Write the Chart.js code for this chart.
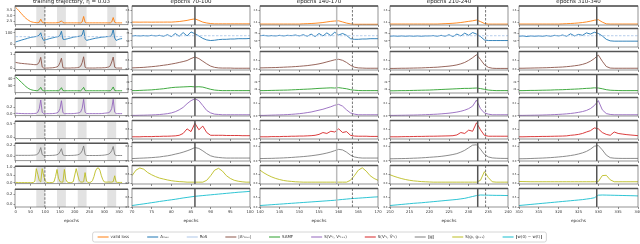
<!DOCTYPE html>
<html>
<head>
<meta charset="utf-8">
<script src="https://cdn.jsdelivr.net/npm/chart.js@4.4.1/dist/chart.umd.min.js"></script>
<style>
  body { margin: 0; background: #fff; width: 640px; height: 244px; overflow: hidden; position: relative; }
  canvas { position: absolute; }
</style>
</head>
<body>
<script>
// ---- data: full training trajectory (every 5 epochs) ----
const epochsTrain = [0,5,10,15,20,25,30,35,40,45,50,55,60,65,70,75,80,85,90,95,100,105,110,115,120,125,130,135,140,145,150,155,160,165,170,175,180,185,190,195,200,205,210,215,220,225,230,235,240,245,250,255,260,265,270,275,280,285,290,295,300,305,310,315,320,325,330,335,340,345,350,355,360];
const valLossTrain = [3.78,3.65,3.5,3.35,3.2,3.05,2.9,2.78,2.67,2.58,2.5,2.45,2.42,2.4,2.39,2.39,2.42,2.7,2.42,2.38,2.38,2.38,2.37,2.37,2.37,2.37,2.37,2.37,2.38,2.4,2.45,2.55,2.4,2.37,2.37,2.37,2.37,2.37,2.37,2.37,2.37,2.37,2.37,2.37,2.37,2.45,2.95,2.42,2.37,2.37,2.37,2.37,2.37,2.37,2.37,2.37,2.37,2.37,2.37,2.37,2.37,2.37,2.37,2.37,2.37,2.45,2.85,2.42,2.37,2.37,2.37,2.37,2.37];
const aMaxTrain = [21,25,29,33,37,41,44,48,52,56,59,62,64,66,68,72,80,100,55,34,38,42,46,50,53,56,59,62,65,68,78,113,45,42,45,48,52,55,58,62,64,66,68,70,72,82,125,50,34,38,41,44,47,50,53,55,57,59,61,63,64,66,67,68,70,80,128,55,34,40,45,48,50];
const aEpsTrain = [0.42,0.4,0.38,0.36,0.35,0.34,0.33,0.32,0.31,0.3,0.29,0.28,0.27,0.26,0.26,0.3,0.45,0.78,0.1,0.02,0.02,0.02,0.02,0.03,0.03,0.04,0.05,0.07,0.1,0.18,0.4,0.72,0.05,0.02,0.02,0.02,0.02,0.02,0.03,0.03,0.03,0.04,0.05,0.08,0.15,0.4,0.82,0.08,0.02,0.02,0.02,0.02,0.02,0.02,0.02,0.03,0.03,0.03,0.03,0.04,0.04,0.05,0.07,0.1,0.18,0.45,0.8,0.08,0.02,0.02,0.02,0.02,0.02];
const samfTrain = [42.6,41,39,37,35,33,31,29,27.5,26,25,24.3,23.8,23.5,23.3,23.5,25,28,24,23.2,23.2,23.2,23.2,23.2,23.2,23.2,23.2,23.2,23.2,23.2,24.5,27.5,23.5,23.2,23.2,23.2,23.2,23.2,23.2,23.2,23.2,23.2,23.2,23.2,23.2,25,28,23.5,23.2,23.2,23.2,23.2,23.2,23.2,23.2,23.2,23.2,23.2,23.2,23.2,23.2,23.2,23.2,23.2,23.2,25,28.5,23.5,23.2,23.2,23.2,23.2,23.2];
const simVTrain = [0.02,0.02,0.015,0.015,0.012,0.012,0.01,0.01,0.01,0.01,0.01,0.01,0.012,0.015,0.02,0.05,0.15,0.4,0.05,0.01,0.01,0.01,0.01,0.01,0.01,0.012,0.015,0.02,0.03,0.06,0.15,0.38,0.04,0.01,0.01,0.01,0.01,0.01,0.01,0.012,0.015,0.02,0.025,0.035,0.06,0.16,0.42,0.05,0.01,0.01,0.01,0.01,0.01,0.01,0.01,0.01,0.01,0.01,0.012,0.015,0.02,0.025,0.03,0.04,0.07,0.16,0.42,0.05,0.01,0.01,0.01,0.01,0.01];
const simVtTrain = [];
const gNormTrain = [0.016,0.016,0.015,0.015,0.015,0.015,0.015,0.015,0.015,0.015,0.016,0.017,0.018,0.02,0.025,0.04,0.08,0.16,0.03,0.012,0.012,0.012,0.012,0.013,0.014,0.015,0.017,0.02,0.026,0.04,0.08,0.14,0.025,0.012,0.012,0.012,0.012,0.013,0.014,0.015,0.017,0.02,0.025,0.035,0.055,0.1,0.19,0.03,0.012,0.012,0.012,0.012,0.012,0.012,0.012,0.012,0.013,0.014,0.015,0.017,0.02,0.024,0.03,0.04,0.06,0.1,0.18,0.03,0.012,0.012,0.012,0.012,0.012];
const simGTrain = [0.03,0.03,0.02,0.02,0.02,0.02,0.02,0.02,0.02,0.02,0.02,0.02,0.03,0.1,0.9,0.55,0.15,0.06,0.9,0.45,0.12,0.04,0.02,0.02,0.02,0.03,0.08,0.4,0.85,0.3,0.08,0.05,0.05,0.85,0.2,0.05,0.02,0.02,0.03,0.08,0.5,0.9,0.5,0.15,0.06,0.05,0.08,0.65,0.1,0.03,0.03,0.05,0.15,0.4,0.75,0.92,0.95,0.8,0.45,0.2,0.06,0.05,0.05,0.06,0.05,0.05,0.08,0.45,0.05,0.03,0.03,0.03,0.03];
const wDistTrain = [];

// ---- data: zoomed windows (every epoch) ----
const epochs70 = [70,71,72,73,74,75,76,77,78,79,80,81,82,83,84,85,86,87,88,89,90,91,92,93,94,95,96,97,98,99,100];
const valLoss70 = [2.4,2.4,2.399,2.4,2.4,2.399,2.4,2.4,2.4,2.401,2.4,2.405,2.41,2.42,2.43,2.445,2.456,2.43,2.4,2.385,2.375,2.37,2.37,2.37,2.37,2.37,2.37,2.37,2.37,2.37,2.37];
const aMax70 = [66,67,66,67,66,68,66,68,65,70,64,74,65,77,66,79,73,66,58,53,51,52,54,55,55,56,56,57,57,57,58];
const aEps70 = [0.07,0.08,0.09,0.1,0.12,0.14,0.16,0.19,0.22,0.25,0.29,0.33,0.38,0.43,0.49,0.6,0.69,0.6,0.45,0.3,0.17,0.1,0.07,0.06,0.06,0.06,0.05,0.05,0.05,0.05,0.05];
const samf70 = [23.3,23.3,23.4,23.5,23.6,23.7,23.9,24.1,24.3,24.6,24.9,25.1,25.2,25.3,25.4,25.5,25.3,25.4,25.2,24.6,24,23.6,23.4,23.3,23.3,23.3,23.3,23.3,23.3,23.3,23.3];
const simV70 = [0.01,0.01,0.012,0.013,0.015,0.017,0.02,0.024,0.03,0.038,0.05,0.07,0.1,0.14,0.2,0.25,0.28,0.25,0.17,0.09,0.05,0.03,0.025,0.02,0.02,0.02,0.02,0.02,0.02,0.02,0.02];
const simVt70 = [0.12,0.12,0.12,0.13,0.13,0.13,0.14,0.14,0.15,0.15,0.16,0.17,0.2,0.3,0.55,0.4,0.85,0.5,0.7,0.35,0.2,0.2,0.2,0.2,0.19,0.19,0.19,0.19,0.18,0.18,0.18];
const gNorm70 = [0.033,0.035,0.038,0.04,0.043,0.046,0.05,0.055,0.063,0.07,0.08,0.093,0.105,0.12,0.138,0.158,0.183,0.17,0.138,0.1,0.07,0.055,0.048,0.043,0.04,0.04,0.04,0.04,0.04,0.04,0.04];
const simG70 = [0.445,0.775,0.907,0.83,0.632,0.5,0.39,0.302,0.247,0.192,0.148,0.115,0.093,0.082,0.06,0.06,0.06,0.06,0.06,0.17,0.445,0.775,0.885,0.72,0.445,0.28,0.17,0.115,0.082,0.06,0.06];
const wDist70 = [0.08,0.11,0.14,0.17,0.2,0.235,0.265,0.3,0.33,0.36,0.39,0.42,0.455,0.49,0.52,0.55,0.58,0.6,0.62,0.64,0.66,0.68,0.7,0.72,0.74,0.76,0.78,0.8,0.815,0.83,0.85];

const epochs140 = [140,141,142,143,144,145,146,147,148,149,150,151,152,153,154,155,156,157,158,159,160,161,162,163,164,165,166,167,168,169,170];
const valLoss140 = [2.367,2.367,2.367,2.367,2.367,2.367,2.367,2.367,2.367,2.367,2.367,2.371,2.373,2.376,2.38,2.386,2.393,2.403,2.413,2.419,2.423,2.403,2.383,2.37,2.363,2.363,2.363,2.363,2.363,2.363,2.363];
const aMax140 = [67,68,66,67,66,68,66,68,67,69,66,70,65,72,64,74,66,76,67,78,69,74,68,57,55,55,56,56,57,57,57];
const aEps140 = [0.07,0.075,0.08,0.085,0.09,0.1,0.11,0.12,0.13,0.145,0.16,0.18,0.2,0.23,0.26,0.3,0.35,0.41,0.47,0.53,0.56,0.5,0.38,0.22,0.11,0.07,0.06,0.05,0.05,0.05,0.05];
const samf140 = [23.3,23.3,23.35,23.4,23.45,23.5,23.55,23.6,23.7,23.8,23.9,24,24.1,24.2,24.35,24.5,24.6,24.7,24.8,24.7,24.9,24.6,24.3,23.8,23.5,23.35,23.3,23.3,23.3,23.3,23.3];
const simV140 = [0.01,0.01,0.012,0.014,0.016,0.018,0.02,0.023,0.027,0.032,0.038,0.045,0.055,0.065,0.08,0.095,0.11,0.13,0.15,0.175,0.19,0.16,0.1,0.05,0.03,0.02,0.02,0.02,0.02,0.02,0.02];
const simVt140 = [0.12,0.12,0.12,0.13,0.13,0.13,0.14,0.14,0.15,0.15,0.16,0.16,0.17,0.18,0.2,0.25,0.35,0.3,0.42,0.38,0.55,0.35,0.4,0.2,0.16,0.15,0.15,0.15,0.14,0.14,0.14];
const gNorm140 = [0.033,0.034,0.035,0.036,0.038,0.04,0.042,0.045,0.048,0.052,0.056,0.06,0.065,0.071,0.078,0.086,0.096,0.108,0.122,0.14,0.158,0.15,0.12,0.08,0.055,0.045,0.04,0.04,0.04,0.04,0.04];
const simG140 = [0.775,0.61,0.478,0.368,0.28,0.214,0.159,0.126,0.104,0.082,0.071,0.06,0.06,0.06,0.06,0.06,0.06,0.06,0.06,0.06,0.06,0.06,0.06,0.17,0.445,0.775,0.918,0.72,0.445,0.28,0.17];
const wDist140 = [0.08,0.095,0.11,0.125,0.14,0.155,0.17,0.185,0.2,0.215,0.23,0.245,0.26,0.275,0.29,0.305,0.32,0.335,0.35,0.365,0.39,0.41,0.43,0.45,0.465,0.48,0.495,0.51,0.525,0.54,0.55];

const epochs210 = [210,211,212,213,214,215,216,217,218,219,220,221,222,223,224,225,226,227,228,229,230,231,232,233,234,235,236,237,238,239,240];
const valLoss210 = [2.367,2.367,2.367,2.367,2.367,2.367,2.367,2.367,2.367,2.367,2.367,2.367,2.367,2.37,2.373,2.376,2.38,2.386,2.393,2.403,2.413,2.423,2.436,2.409,2.376,2.366,2.366,2.366,2.366,2.366,2.366];
const aMax210 = [65,66,65,66,65,66,65,66,65,66,66,67,65,68,65,70,64,72,66,75,68,77,72,64,53,51,51,51,51,51,51];
const aEps210 = [0.04,0.04,0.045,0.05,0.05,0.055,0.06,0.065,0.07,0.08,0.09,0.1,0.11,0.13,0.15,0.17,0.2,0.24,0.3,0.38,0.5,0.65,0.82,0.55,0.25,0.1,0.05,0.04,0.04,0.04,0.04];
const samf210 = [23.2,23.2,23.25,23.3,23.3,23.35,23.4,23.45,23.5,23.55,23.6,23.7,23.8,23.9,24,24.1,24.2,24.3,24.4,24.5,24.5,24.6,24.7,24.4,24,23.6,23.4,23.3,23.3,23.3,23.3];
const simV210 = [0.01,0.01,0.011,0.012,0.013,0.014,0.015,0.017,0.019,0.021,0.024,0.027,0.03,0.035,0.04,0.046,0.054,0.064,0.077,0.095,0.12,0.16,0.26,0.12,0.05,0.03,0.02,0.02,0.02,0.02,0.02];
const simVt210 = [0.12,0.12,0.12,0.125,0.13,0.13,0.135,0.14,0.14,0.145,0.15,0.15,0.155,0.16,0.165,0.17,0.18,0.22,0.35,0.3,0.48,0.42,0.88,0.5,0.2,0.15,0.15,0.15,0.15,0.15,0.15];
const gNorm210 = [0.03,0.031,0.032,0.033,0.034,0.036,0.038,0.04,0.043,0.046,0.05,0.054,0.058,0.063,0.07,0.078,0.088,0.1,0.12,0.145,0.18,0.215,0.22,0.16,0.09,0.055,0.042,0.038,0.036,0.035,0.035];
const simG210 = [0.5,0.412,0.335,0.269,0.214,0.17,0.137,0.115,0.093,0.082,0.071,0.06,0.06,0.06,0.06,0.06,0.06,0.06,0.06,0.06,0.06,0.06,0.06,0.17,0.687,0.335,0.082,0.06,0.06,0.06,0.06];
const wDist210 = [0.08,0.1,0.12,0.14,0.16,0.18,0.2,0.215,0.23,0.25,0.27,0.29,0.31,0.33,0.35,0.37,0.39,0.41,0.44,0.47,0.52,0.57,0.62,0.65,0.645,0.64,0.635,0.63,0.63,0.625,0.62];

const epochs310 = [310,311,312,313,314,315,316,317,318,319,320,321,322,323,324,325,326,327,328,329,330,331,332,333,334,335,336,337,338,339,340];
const valLoss310 = [2.367,2.367,2.367,2.367,2.367,2.367,2.367,2.367,2.367,2.367,2.367,2.37,2.373,2.376,2.38,2.386,2.393,2.403,2.416,2.433,2.442,2.4,2.37,2.367,2.367,2.367,2.367,2.367,2.367,2.367,2.367];
const aMax310 = [65,66,64,66,65,66,65,67,65,68,66,69,65,73,66,71,68,76,72,78,74,66,55,50,49,49,49,49,49,49,49];
const aEps310 = [0.05,0.05,0.055,0.06,0.065,0.07,0.075,0.08,0.09,0.1,0.11,0.12,0.14,0.16,0.19,0.22,0.27,0.34,0.45,0.6,0.8,0.45,0.15,0.06,0.05,0.05,0.05,0.05,0.05,0.05,0.05];
const samf310 = [23.3,23.3,23.35,23.4,23.4,23.45,23.5,23.55,23.6,23.7,23.75,23.8,23.9,24,24.1,24.2,24.35,24.5,24.6,24.8,24.7,24.3,23.8,23.5,23.4,23.35,23.3,23.3,23.3,23.3,23.3];
const simV310 = [0.01,0.01,0.011,0.012,0.013,0.014,0.016,0.018,0.02,0.023,0.026,0.03,0.035,0.041,0.049,0.059,0.072,0.09,0.12,0.17,0.25,0.1,0.04,0.025,0.02,0.02,0.02,0.02,0.02,0.02,0.02];
const simVt310 = [0.12,0.12,0.125,0.13,0.13,0.135,0.14,0.14,0.145,0.15,0.155,0.16,0.17,0.2,0.22,0.25,0.3,0.38,0.45,0.6,0.55,0.35,0.25,0.2,0.38,0.3,0.27,0.24,0.22,0.2,0.18];
const gNorm310 = [0.03,0.031,0.032,0.034,0.036,0.038,0.04,0.043,0.046,0.05,0.055,0.06,0.066,0.074,0.083,0.095,0.11,0.13,0.16,0.2,0.21,0.15,0.08,0.045,0.038,0.036,0.035,0.035,0.035,0.035,0.035];
const simG310 = [0.1,0.095,0.09,0.085,0.085,0.085,0.085,0.085,0.085,0.085,0.085,0.085,0.085,0.085,0.085,0.085,0.085,0.085,0.085,0.085,0.1,0.45,0.47,0.2,0.085,0.085,0.085,0.085,0.085,0.085,0.085];
const wDist310 = [0.08,0.1,0.12,0.14,0.16,0.18,0.2,0.22,0.24,0.26,0.28,0.3,0.32,0.34,0.36,0.38,0.4,0.43,0.46,0.5,0.64,0.65,0.645,0.64,0.635,0.63,0.625,0.62,0.615,0.61,0.6];

const rosValue = 66.7; // 2 / eta

// ---- axis ticks ----
const xTicksTrain = [0,50,100,150,200,250,300,350];
const xTicks70 = [70,75,80,85,90,95,100];
const xTicks140 = [140,145,150,155,160,165,170];
const xTicks210 = [210,215,220,225,230,235,240];
const xTicks310 = [310,315,320,325,330,335,340];
const yTicksTrain = [['2.5','3.0','3.5'],['0','100'],['0','1'],['30','40'],['0.0','0.2'],['0.0','0.5'],['0.0','0.2'],['0.0','0.5','1.0'],['0.0','0.2']];
const yTicksWin = [['2.4','2.6'],['50','75'],['0.0','0.5'],['24','28'],['0.0','0.2'],['0.0','0.5'],['0.0','0.2'],['0.0','0.5'],['0.0','0.5']];
const yRangeTrain = [[2.2,3.9],[-20,130],[-0.1,1.14],[20.4,45],[-0.05,0.45],[-0.05,0.6],[-0.085,0.24],[-0.05,1.05],[-0.05,0.3]];
const yRangeWin = [[2.35,2.68],[30,90],[-0.05,1.0],[22,32],[0,0.3],[0,1],[0,0.25],[-0.05,1.05],[0,1]];

const spansTrain = [[70,100],[140,170],[210,240],[310,340]];

const legendLabels = ['valid loss','A\u2098\u2090\u2093','RoS','|A\u1D4B\u2098\u2090\u2093|','SAMF','S(V\u1D4B\u209C, V\u1D4B\u209C\u208A\u2081)','S(V\u1D4B\u209C, \u1E7C\u1D4B\u209C)','\u2016g\u2016','S(g\u209C, g\u209C\u208A\u2081)','\u2016w(0) \u2212 w(t)\u2016'];

// ---- layout ----
const family = 'DejaVu Sans';
const rowTop = [6, 28, 51, 74, 97, 120, 142, 165, 188];
const rowH = 19;
const colBox = [[15, 128], [132, 250], [260, 378], [390, 508], [519, 638]];

const rowColors = ['#ff7f0e', '#1f77b4', '#8c564b', '#2ca02c', '#9467bd', '#d62728', '#7f7f7f', '#bcbd22', '#17becf'];
const rosColor = '#aec7e8';

const columns = [
  { title: 'training trajectory, \u03B7 = 0.03', xs: epochsTrain, xMin: -2, xMax: 380, xTicks: xTicksTrain,
    spans: spansTrain, vlines: [{x: 99, style: 'dash'}], yTicks: yTicksTrain, yRange: yRangeTrain,
    series: [valLossTrain, aMaxTrain, aEpsTrain, samfTrain, simVTrain, simVtTrain, gNormTrain, simGTrain, wDistTrain] },
  { title: 'epochs 70-100', xs: epochs70, xMin: 70, xMax: 100, xTicks: xTicks70, spans: [],
    vlines: [{x: 86, style: 'solid'}], yTicks: yTicksWin, yRange: yRangeWin,
    series: [valLoss70, aMax70, aEps70, samf70, simV70, simVt70, gNorm70, simG70, wDist70] },
  { title: 'epochs 140-170', xs: epochs140, xMin: 140, xMax: 170, xTicks: xTicks140, spans: [],
    vlines: [{x: 159.5, style: 'light'}, {x: 163.5, style: 'dash'}], yTicks: yTicksWin, yRange: yRangeWin,
    series: [valLoss140, aMax140, aEps140, samf140, simV140, simVt140, gNorm140, simG140, wDist140] },
  { title: 'epochs 210-240', xs: epochs210, xMin: 210, xMax: 240, xTicks: xTicks210, spans: [],
    vlines: [{x: 232.3, style: 'solid'}, {x: 234.3, style: 'dash'}], yTicks: yTicksWin, yRange: yRangeWin,
    series: [valLoss210, aMax210, aEps210, samf210, simV210, simVt210, gNorm210, simG210, wDist210] },
  { title: 'epochs 310-340', xs: epochs310, xMin: 310, xMax: 340, xTicks: xTicks310, spans: [],
    vlines: [{x: 329.6, style: 'solid'}], yTicks: yTicksWin, yRange: yRangeWin,
    series: [valLoss310, aMax310, aEps310, samf310, simV310, simVt310, gNorm310, simG310, wDist310] }
];

const vlineStyle = {
  solid: {color: '#555', width: 1.5, dash: []},
  light: {color: '#bbb', width: 1.5, dash: []},
  dash:  {color: '#555', width: 0.8, dash: [2.5, 1.5]}
};

// spans, event lines, frame and column titles
const panelDeco = {
  id: 'panelDeco',
  beforeDatasetsDraw(chart, args, opts) {
    const {ctx, chartArea: a} = chart;
    const x = chart.scales.x;
    ctx.save();
    ctx.fillStyle = '#e2e2e2';
    opts.spans.forEach(([s, e]) => {
      const x0 = x.getPixelForValue(s), x1 = x.getPixelForValue(e);
      ctx.fillRect(x0, a.top, x1 - x0, a.bottom - a.top);
    });
    ctx.restore();
  },
  afterDatasetsDraw(chart, args, opts) {
    const {ctx, chartArea: a} = chart;
    const x = chart.scales.x;
    ctx.save();
    opts.vlines.forEach(v => {
      const st = vlineStyle[v.style];
      const px = x.getPixelForValue(v.x);
      ctx.strokeStyle = st.color;
      ctx.lineWidth = st.width;
      ctx.setLineDash(st.dash);
      ctx.beginPath();
      ctx.moveTo(px, a.top);
      ctx.lineTo(px, a.bottom);
      ctx.stroke();
    });
    ctx.setLineDash([]);
    ctx.strokeStyle = '#666';
    ctx.lineWidth = 0.7;
    ctx.strokeRect(a.left, a.top, a.right - a.left, a.bottom - a.top);
    ctx.strokeStyle = '#555';
    ctx.lineWidth = 1.5;
    ctx.beginPath();
    ctx.moveTo(a.left, a.top);
    ctx.lineTo(a.right, a.top);
    ctx.stroke();
    if (opts.title) {
      ctx.fillStyle = '#222';
      ctx.font = '5.5px "' + family + '"';
      ctx.textAlign = 'center';
      ctx.textBaseline = 'middle';
      ctx.fillText(opts.title, (a.left + a.right) / 2, a.top - 4);
    }
    ctx.restore();
  }
};

function makePanel(ci, ri) {
  const col = columns[ci];
  const [x0, x1] = colBox[ci];
  const y0 = rowTop[ri];
  const L = ci === 0 ? 14 : 9, R = 5;
  const T = ri === 0 ? 7 : 2, B = ri === 8 ? 17 : 3;
  const w = x1 - x0 + L + R, h = rowH + T + B;
  const canvas = document.createElement('canvas');
  canvas.width = w; canvas.height = h;
  canvas.style.left = (x0 - L) + 'px';
  canvas.style.top = (y0 - T) + 'px';
  canvas.style.width = w + 'px';
  canvas.style.height = h + 'px';
  document.body.appendChild(canvas);

  const ys = col.series[ri];
  const datasets = [];
  if (ri === 1) {
    const xs = col.xs;
    datasets.push({ data: [{x: xs[0], y: rosValue}, {x: xs[xs.length - 1], y: rosValue}],
      borderColor: rosColor, borderWidth: 0.9, borderDash: [2.5, 1.5] });
  }
  datasets.push({ data: ys.map((v, i) => ({x: col.xs[i], y: v})), borderColor: rowColors[ri], borderWidth: 0.9 });

  const labels = col.yTicks[ri];
  const [yMin, yMax] = col.yRange[ri];
  const tickFont = {family, size: ci === 0 ? 3.8 : 2.6};

  new Chart(canvas, {
    type: 'line',
    data: { datasets },
    options: {
      responsive: false,
      animation: false,
      events: [],
      layout: { padding: { left: 0, right: R, top: T, bottom: 0 } },
      elements: { point: { radius: 0 }, line: { tension: 0 } },
      plugins: {
        legend: { display: false },
        tooltip: { enabled: false },
        panelDeco: { spans: col.spans, vlines: col.vlines, title: ri === 0 ? col.title : '' }
      },
      scales: {
        x: {
          type: 'linear', min: col.xMin, max: col.xMax,
          afterFit: s => { s.height = B; },
          afterBuildTicks: s => { s.ticks = col.xTicks.map(v => ({value: v})); },
          grid: { drawOnChartArea: false, drawTicks: true, tickLength: 2, color: '#444', lineWidth: 0.6 },
          border: { display: false },
          ticks: { display: ri === 8, font: {family, size: 3.8}, color: '#333', padding: 1, maxRotation: 0, autoSkip: false },
          title: { display: ri === 8, text: 'epochs', font: {family, size: 4.2}, color: '#333', padding: {top: 0, bottom: 1} }
        },
        y: {
          min: yMin, max: yMax,
          afterFit: s => { s.width = L; },
          afterBuildTicks: s => { s.ticks = labels.map(t => ({value: parseFloat(t)})); },
          grid: { drawOnChartArea: false, drawTicks: true, tickLength: 1.5, color: '#444', lineWidth: 0.6 },
          border: { display: false },
          ticks: { font: tickFont, color: '#333', padding: 1, autoSkip: false,
                   callback: (v, i) => labels[i] }
        }
      }
    },
    plugins: [panelDeco]
  });
}

for (let ci = 0; ci < columns.length; ci++) {
  for (let ri = 0; ri < 9; ri++) makePanel(ci, ri);
}

// ---- legend ----
const legendBox = {
  id: 'legendBox',
  afterDraw(chart) {
    const boxes = chart.legend.legendHitBoxes;
    if (!boxes.length) return;
    const left = Math.min(...boxes.map(b => b.left)) - 5;
    const right = Math.max(...boxes.map(b => b.left + b.width)) + 4;
    const top = Math.min(...boxes.map(b => b.top)) - 3;
    const bottom = Math.max(...boxes.map(b => b.top + b.height)) + 3;
    const ctx = chart.ctx;
    ctx.save();
    ctx.strokeStyle = '#cccccc';
    ctx.lineWidth = 0.8;
    ctx.beginPath();
    ctx.roundRect(left, top, right - left, bottom - top, 2);
    ctx.stroke();
    ctx.restore();
  }
};

const legendCanvas = document.createElement('canvas');
legendCanvas.width = 640; legendCanvas.height = 80;
legendCanvas.style.left = '0px'; legendCanvas.style.top = '217px';
legendCanvas.style.width = '640px'; legendCanvas.style.height = '80px';
document.body.appendChild(legendCanvas);

const legendColors = ['#ff7f0e', '#1f77b4', rosColor, '#8c564b', '#2ca02c', '#9467bd', '#d62728', '#7f7f7f', '#bcbd22', '#17becf'];
new Chart(legendCanvas, {
  type: 'line',
  data: {
    datasets: legendLabels.map((lab, i) => ({
      label: lab, data: [], borderColor: legendColors[i], backgroundColor: legendColors[i],
      borderWidth: 1, borderDash: i === 2 ? [2.5, 1.5] : []
    }))
  },
  options: {
    responsive: false, animation: false, events: [],
    scales: { x: { display: false }, y: { display: false } },
    plugins: {
      tooltip: { enabled: false },
      legend: {
        position: 'top', align: 'center', maxHeight: 60,
        labels: { usePointStyle: true, pointStyle: 'line', pointStyleWidth: 11,
                  font: {family, size: 4}, color: '#333', padding: 18 }
      }
    }
  },
  plugins: [legendBox]
});
</script>
</body>
</html>
